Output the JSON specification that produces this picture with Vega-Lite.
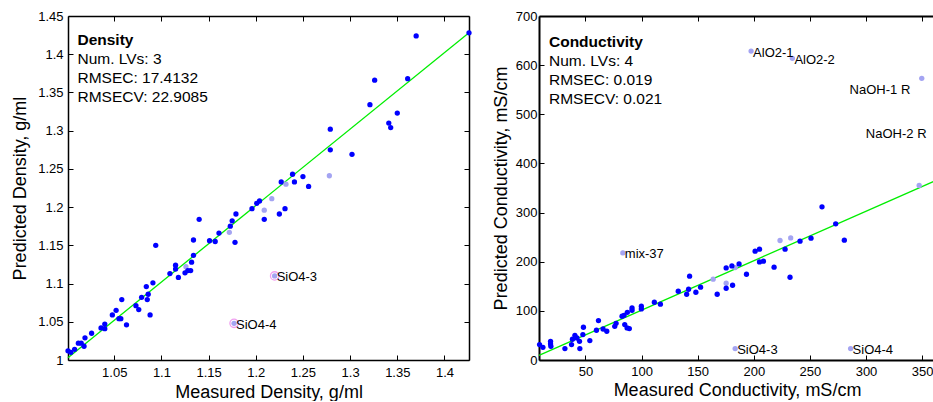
{
  "$schema": "https://vega.github.io/schema/vega-lite/v6.json",
  "background": "white",
  "padding": {"left": 11, "top": 10, "right": 0, "bottom": 0},
  "bounds": "flush",
  "spacing": 70,
  "config": {
    "view": {"stroke": null},
    "font": "Liberation Sans",
    "axis": {
      "grid": false,
      "domainColor": "black",
      "domainWidth": 1.5,
      "tickColor": "black",
      "tickWidth": 1,
      "tickSize": -5,
      "labelFontSize": 13,
      "labelColor": "black",
      "labelFont": "Liberation Sans",
      "labelOverlap": false,
      "labelFlush": false,
      "labelBound": false,
      "titleFontSize": 18,
      "titleFontWeight": "normal",
      "titleColor": "black",
      "titleFont": "Liberation Sans"
    },
    "text": {"font": "Liberation Sans"}
  },
  "datasets": {
    "d_fit": [{"x": 1.001, "y": 1.003}, {"x": 1.426, "y": 1.428}],
    "d_pts": [
      {"x": 1.001, "y": 1.012, "s": "c"}, {"x": 1.004, "y": 1.010, "s": "c"}, {"x": 1.008, "y": 1.014, "s": "c"},
      {"x": 1.012, "y": 1.022, "s": "c"}, {"x": 1.015, "y": 1.022, "s": "c"}, {"x": 1.018, "y": 1.018, "s": "c"},
      {"x": 1.019, "y": 1.029, "s": "c"}, {"x": 1.026, "y": 1.035, "s": "c"}, {"x": 1.036, "y": 1.042, "s": "c"},
      {"x": 1.040, "y": 1.047, "s": "c"}, {"x": 1.040, "y": 1.041, "s": "c"}, {"x": 1.048, "y": 1.059, "s": "c"},
      {"x": 1.052, "y": 1.065, "s": "c"}, {"x": 1.055, "y": 1.054, "s": "c"}, {"x": 1.057, "y": 1.054, "s": "c"},
      {"x": 1.058, "y": 1.079, "s": "c"}, {"x": 1.063, "y": 1.046, "s": "c"}, {"x": 1.073, "y": 1.071, "s": "c"},
      {"x": 1.076, "y": 1.066, "s": "c"}, {"x": 1.079, "y": 1.082, "s": "c"}, {"x": 1.084, "y": 1.096, "s": "c"},
      {"x": 1.086, "y": 1.086, "s": "c"}, {"x": 1.085, "y": 1.079, "s": "c"}, {"x": 1.088, "y": 1.059, "s": "c"},
      {"x": 1.091, "y": 1.101, "s": "c"}, {"x": 1.094, "y": 1.150, "s": "c"}, {"x": 1.109, "y": 1.113, "s": "c"},
      {"x": 1.115, "y": 1.124, "s": "c"}, {"x": 1.115, "y": 1.119, "s": "c"}, {"x": 1.118, "y": 1.108, "s": "c"},
      {"x": 1.126, "y": 1.122, "s": "v"}, {"x": 1.125, "y": 1.114, "s": "c"}, {"x": 1.128, "y": 1.117, "s": "c"},
      {"x": 1.131, "y": 1.117, "s": "c"}, {"x": 1.132, "y": 1.128, "s": "c"}, {"x": 1.134, "y": 1.157, "s": "c"},
      {"x": 1.134, "y": 1.137, "s": "c"}, {"x": 1.140, "y": 1.184, "s": "c"}, {"x": 1.151, "y": 1.156, "s": "c"},
      {"x": 1.157, "y": 1.155, "s": "c"}, {"x": 1.161, "y": 1.166, "s": "c"}, {"x": 1.172, "y": 1.167, "s": "v"},
      {"x": 1.173, "y": 1.175, "s": "c"}, {"x": 1.175, "y": 1.182, "s": "c"}, {"x": 1.178, "y": 1.154, "s": "c"},
      {"x": 1.179, "y": 1.191, "s": "c"}, {"x": 1.196, "y": 1.198, "s": "c"}, {"x": 1.201, "y": 1.205, "s": "c"},
      {"x": 1.204, "y": 1.208, "s": "c"}, {"x": 1.209, "y": 1.196, "s": "v"}, {"x": 1.209, "y": 1.184, "s": "c"},
      {"x": 1.217, "y": 1.211, "s": "v"}, {"x": 1.225, "y": 1.191, "s": "c"}, {"x": 1.227, "y": 1.233, "s": "c"},
      {"x": 1.231, "y": 1.198, "s": "c"}, {"x": 1.232, "y": 1.230, "s": "v"}, {"x": 1.239, "y": 1.243, "s": "c"},
      {"x": 1.241, "y": 1.233, "s": "c"}, {"x": 1.250, "y": 1.240, "s": "c"}, {"x": 1.256, "y": 1.227, "s": "c"},
      {"x": 1.278, "y": 1.241, "s": "v"}, {"x": 1.279, "y": 1.275, "s": "c"}, {"x": 1.279, "y": 1.302, "s": "c"},
      {"x": 1.302, "y": 1.269, "s": "c"}, {"x": 1.321, "y": 1.334, "s": "c"}, {"x": 1.326, "y": 1.366, "s": "c"},
      {"x": 1.341, "y": 1.310, "s": "c"}, {"x": 1.343, "y": 1.304, "s": "c"}, {"x": 1.350, "y": 1.323, "s": "c"},
      {"x": 1.361, "y": 1.368, "s": "c"}, {"x": 1.370, "y": 1.424, "s": "c"}, {"x": 1.426, "y": 1.428, "s": "c"},
      {"x": 1.220, "y": 1.110, "s": "v", "label": "SiO4-3", "ring": true},
      {"x": 1.177, "y": 1.048, "s": "v", "label": "SiO4-4", "ring": true}
    ],
    "d_ann": [
      {"x": 1.011, "y": 1.4181, "t": "Density", "b": true},
      {"x": 1.011, "y": 1.3932, "t": "Num. LVs: 3", "b": false},
      {"x": 1.011, "y": 1.3683, "t": "RMSEC: 17.4132", "b": false},
      {"x": 1.011, "y": 1.3434, "t": "RMSECV: 22.9085", "b": false}
    ],
    "c_fit": [{"x": 8.6, "y": 9.6}, {"x": 361.5, "y": 364.5}],
    "c_pts": [
      {"x": 197.6, "y": 628.7, "s": "v", "label": "AlO2-1"},
      {"x": 234.4, "y": 613.9, "s": "v", "label": "AlO2-2"},
      {"x": 349.7, "y": 573.1, "s": "v"},
      {"x": 83.3, "y": 217.9, "s": "v", "label": "mix-37"},
      {"x": 183.4, "y": 23.2, "s": "v", "label": "SiO4-3"},
      {"x": 286.3, "y": 23.2, "s": "v", "label": "SiO4-4"},
      {"x": 347.4, "y": 355.2, "s": "v"},
      {"x": 223.4, "y": 243.2, "s": "v"},
      {"x": 232.9, "y": 248.5, "s": "v"},
      {"x": 163.8, "y": 164.4, "s": "v"},
      {"x": 175.4, "y": 156.2, "s": "v"},
      {"x": 183.4, "y": 188.0, "s": "v"},
      {"x": 9.1, "y": 31.4, "s": "c"}, {"x": 12.1, "y": 25.9, "s": "c"}, {"x": 18.9, "y": 38.1, "s": "c"},
      {"x": 18.9, "y": 32.6, "s": "c"}, {"x": 19.2, "y": 27.9, "s": "c"}, {"x": 31.7, "y": 23.2, "s": "c"},
      {"x": 37.6, "y": 31.4, "s": "c"}, {"x": 38.4, "y": 42.2, "s": "c"}, {"x": 40.6, "y": 50.3, "s": "c"},
      {"x": 42.4, "y": 44.8, "s": "c"}, {"x": 44.7, "y": 38.1, "s": "c"}, {"x": 45.0, "y": 23.2, "s": "c"},
      {"x": 47.7, "y": 51.7, "s": "c"}, {"x": 48.2, "y": 66.6, "s": "c"}, {"x": 53.9, "y": 39.5, "s": "c"},
      {"x": 59.8, "y": 60.5, "s": "c"}, {"x": 61.6, "y": 80.2, "s": "c"}, {"x": 65.7, "y": 63.1, "s": "c"},
      {"x": 69.0, "y": 58.5, "s": "c"}, {"x": 76.1, "y": 68.6, "s": "c"}, {"x": 77.3, "y": 74.7, "s": "c"},
      {"x": 82.6, "y": 89.0, "s": "c"}, {"x": 84.4, "y": 91.0, "s": "c"}, {"x": 87.3, "y": 97.1, "s": "c"},
      {"x": 85.0, "y": 72.1, "s": "c"}, {"x": 87.1, "y": 65.2, "s": "c"}, {"x": 89.1, "y": 64.0, "s": "c"},
      {"x": 91.5, "y": 105.9, "s": "c"}, {"x": 91.5, "y": 101.2, "s": "c"}, {"x": 99.8, "y": 109.4, "s": "c"},
      {"x": 99.8, "y": 103.9, "s": "c"}, {"x": 111.4, "y": 117.5, "s": "c"}, {"x": 116.8, "y": 113.5, "s": "c"},
      {"x": 132.7, "y": 139.9, "s": "c"}, {"x": 140.2, "y": 133.8, "s": "c"}, {"x": 141.9, "y": 144.0, "s": "c"},
      {"x": 142.8, "y": 170.5, "s": "c"}, {"x": 148.4, "y": 137.9, "s": "c"}, {"x": 152.6, "y": 148.1, "s": "c"},
      {"x": 167.4, "y": 133.8, "s": "c"}, {"x": 175.4, "y": 146.0, "s": "c"}, {"x": 175.4, "y": 187.4, "s": "c"},
      {"x": 181.1, "y": 152.1, "s": "c"}, {"x": 180.5, "y": 191.4, "s": "c"}, {"x": 186.9, "y": 195.5, "s": "c"},
      {"x": 193.5, "y": 174.5, "s": "c"}, {"x": 201.2, "y": 221.4, "s": "c"}, {"x": 205.1, "y": 225.5, "s": "c"},
      {"x": 205.1, "y": 199.6, "s": "c"}, {"x": 208.6, "y": 201.0, "s": "c"}, {"x": 218.1, "y": 188.8, "s": "c"},
      {"x": 227.9, "y": 225.5, "s": "c"}, {"x": 232.3, "y": 168.4, "s": "c"}, {"x": 241.2, "y": 241.8, "s": "c"},
      {"x": 251.0, "y": 247.9, "s": "c"}, {"x": 260.8, "y": 311.6, "s": "c"}, {"x": 273.0, "y": 277.0, "s": "c"},
      {"x": 280.7, "y": 243.8, "s": "c"}
    ],
    "c_lab": [
      {"x": 197.6, "y": 628.7, "label": "AlO2-1"},
      {"x": 234.4, "y": 613.9, "label": "AlO2-2"},
      {"x": 83.3, "y": 217.9, "label": "mix-37"},
      {"x": 183.4, "y": 23.2, "label": "SiO4-3"},
      {"x": 286.3, "y": 23.2, "label": "SiO4-4"},
      {"x": 283.6, "y": 551.7, "label": "NaOH-1 R"},
      {"x": 298.1, "y": 463.3, "label": "NaOH-2 R"}
    ],
    "c_ann": [
      {"x": 17.5, "y": 647.1, "t": "Conductivity", "b": true},
      {"x": 17.5, "y": 608.4, "t": "Num. LVs: 4", "b": false},
      {"x": 17.5, "y": 569.7, "t": "RMSEC: 0.019", "b": false},
      {"x": 17.5, "y": 531.0, "t": "RMSECV: 0.021", "b": false}
    ]
  },
  "hconcat": [
    {
      "width": 401,
      "height": 344,
      "resolve": {"axis": {"x": "independent", "y": "independent"}},
      "layer": [
        {
          "data": {"name": "d_fit"},
          "mark": {"type": "line", "color": "#00ee00", "strokeWidth": 1.3},
          "encoding": {
            "x": {"field": "x", "type": "quantitative", "scale": {"domain": [1.001, 1.426], "nice": false, "zero": false},
                  "axis": {"orient": "top", "labels": false, "title": null, "values": [1.05, 1.1, 1.15, 1.2, 1.25, 1.3, 1.35, 1.4]}},
            "y": {"field": "y", "type": "quantitative", "scale": {"domain": [1, 1.45], "nice": false, "zero": false},
                  "axis": {"orient": "right", "labels": false, "title": null, "values": [1, 1.05, 1.1, 1.15, 1.2, 1.25, 1.3, 1.35, 1.4, 1.45]}}
          }
        },
        {
          "data": {"name": "d_pts"},
          "mark": {"type": "circle", "size": 28, "opacity": 1},
          "encoding": {
            "x": {"field": "x", "type": "quantitative", "scale": {"domain": [1.001, 1.426], "nice": false, "zero": false},
                  "axis": {"orient": "bottom", "title": "Measured Density, g/ml", "format": ".3~g", "labelPadding": 11, "titlePadding": 4,
                           "values": [1.05, 1.1, 1.15, 1.2, 1.25, 1.3, 1.35, 1.4]}},
            "y": {"field": "y", "type": "quantitative", "scale": {"domain": [1, 1.45], "nice": false, "zero": false},
                  "axis": {"orient": "left", "title": "Predicted Density, g/ml", "format": ".3~g", "labelPadding": 10, "titlePadding": 8,
                           "values": [1, 1.05, 1.1, 1.15, 1.2, 1.25, 1.3, 1.35, 1.4, 1.45]}},
            "color": {"field": "s", "type": "nominal", "scale": {"domain": ["c", "v"], "range": ["#0000ff", "#a4a4f2"]}, "legend": null}
          }
        },
        {
          "data": {"name": "d_pts"},
          "transform": [{"filter": "datum.ring === true"}],
          "mark": {"type": "point", "filled": false, "size": 70, "strokeWidth": 1.3, "color": "#f0a0f0", "opacity": 1},
          "encoding": {
            "x": {"field": "x", "type": "quantitative", "scale": {"domain": [1.001, 1.426], "nice": false, "zero": false}, "axis": null},
            "y": {"field": "y", "type": "quantitative", "scale": {"domain": [1, 1.45], "nice": false, "zero": false}, "axis": null}
          }
        },
        {
          "data": {"name": "d_pts"},
          "transform": [{"filter": "datum.ring === true"}],
          "mark": {"type": "text", "align": "left", "baseline": "middle", "dx": 2, "dy": 1.5, "fontSize": 13, "color": "black"},
          "encoding": {
            "x": {"field": "x", "type": "quantitative", "scale": {"domain": [1.001, 1.426], "nice": false, "zero": false}, "axis": null},
            "y": {"field": "y", "type": "quantitative", "scale": {"domain": [1, 1.45], "nice": false, "zero": false}, "axis": null},
            "text": {"field": "label"}
          }
        },
        {
          "data": {"name": "d_ann"},
          "transform": [{"filter": "datum.b"}],
          "mark": {"type": "text", "align": "left", "baseline": "middle", "fontSize": 15.5, "fontWeight": "bold", "color": "black"},
          "encoding": {
            "x": {"field": "x", "type": "quantitative", "scale": {"domain": [1.001, 1.426], "nice": false, "zero": false}, "axis": null},
            "y": {"field": "y", "type": "quantitative", "scale": {"domain": [1, 1.45], "nice": false, "zero": false}, "axis": null},
            "text": {"field": "t"}
          }
        },
        {
          "data": {"name": "d_ann"},
          "transform": [{"filter": "!datum.b"}],
          "mark": {"type": "text", "align": "left", "baseline": "middle", "fontSize": 15.5, "color": "black"},
          "encoding": {
            "x": {"field": "x", "type": "quantitative", "scale": {"domain": [1.001, 1.426], "nice": false, "zero": false}, "axis": null},
            "y": {"field": "y", "type": "quantitative", "scale": {"domain": [1, 1.45], "nice": false, "zero": false}, "axis": null},
            "text": {"field": "t"}
          }
        }
      ]
    },
    {
      "width": 396,
      "height": 344,
      "resolve": {"axis": {"x": "independent", "y": "independent"}},
      "layer": [
        {
          "data": {"name": "c_fit"},
          "mark": {"type": "line", "color": "#00ee00", "strokeWidth": 1.3},
          "encoding": {
            "x": {"field": "x", "type": "quantitative", "scale": {"domain": [8.6, 361.5], "nice": false, "zero": false},
                  "axis": {"orient": "top", "labels": false, "title": null, "domainWidth": 2, "values": [50, 100, 150, 200, 250, 300, 350]}},
            "y": {"field": "y", "type": "quantitative", "scale": {"domain": [0, 700], "nice": false, "zero": false}, "axis": null}
          }
        },
        {
          "data": {"name": "c_pts"},
          "mark": {"type": "circle", "size": 28, "opacity": 1},
          "encoding": {
            "x": {"field": "x", "type": "quantitative", "scale": {"domain": [8.6, 361.5], "nice": false, "zero": false},
                  "axis": {"orient": "bottom", "title": "Measured Conductivity, mS/cm", "domainWidth": 2, "labelPadding": 10, "titlePadding": 3,
                           "values": [50, 100, 150, 200, 250, 300, 350]}},
            "y": {"field": "y", "type": "quantitative", "scale": {"domain": [0, 700], "nice": false, "zero": false},
                  "axis": {"orient": "left", "title": "Predicted Conductivity, mS/cm", "domainWidth": 2, "labelPadding": 7, "titlePadding": 5,
                           "values": [0, 100, 200, 300, 400, 500, 600, 700]}},
            "color": {"field": "s", "type": "nominal", "scale": {"domain": ["c", "v"], "range": ["#0000ff", "#a4a4f2"]}, "legend": null}
          }
        },
        {
          "data": {"name": "c_lab"},
          "mark": {"type": "text", "align": "left", "baseline": "middle", "dx": 2, "dy": 1.5, "fontSize": 13, "color": "black"},
          "encoding": {
            "x": {"field": "x", "type": "quantitative", "scale": {"domain": [8.6, 361.5], "nice": false, "zero": false}, "axis": null},
            "y": {"field": "y", "type": "quantitative", "scale": {"domain": [0, 700], "nice": false, "zero": false}, "axis": null},
            "text": {"field": "label"}
          }
        },
        {
          "data": {"name": "c_ann"},
          "transform": [{"filter": "datum.b"}],
          "mark": {"type": "text", "align": "left", "baseline": "middle", "fontSize": 15.5, "fontWeight": "bold", "color": "black"},
          "encoding": {
            "x": {"field": "x", "type": "quantitative", "scale": {"domain": [8.6, 361.5], "nice": false, "zero": false}, "axis": null},
            "y": {"field": "y", "type": "quantitative", "scale": {"domain": [0, 700], "nice": false, "zero": false}, "axis": null},
            "text": {"field": "t"}
          }
        },
        {
          "data": {"name": "c_ann"},
          "transform": [{"filter": "!datum.b"}],
          "mark": {"type": "text", "align": "left", "baseline": "middle", "fontSize": 15.5, "color": "black"},
          "encoding": {
            "x": {"field": "x", "type": "quantitative", "scale": {"domain": [8.6, 361.5], "nice": false, "zero": false}, "axis": null},
            "y": {"field": "y", "type": "quantitative", "scale": {"domain": [0, 700], "nice": false, "zero": false}, "axis": null},
            "text": {"field": "t"}
          }
        }
      ]
    }
  ]
}
